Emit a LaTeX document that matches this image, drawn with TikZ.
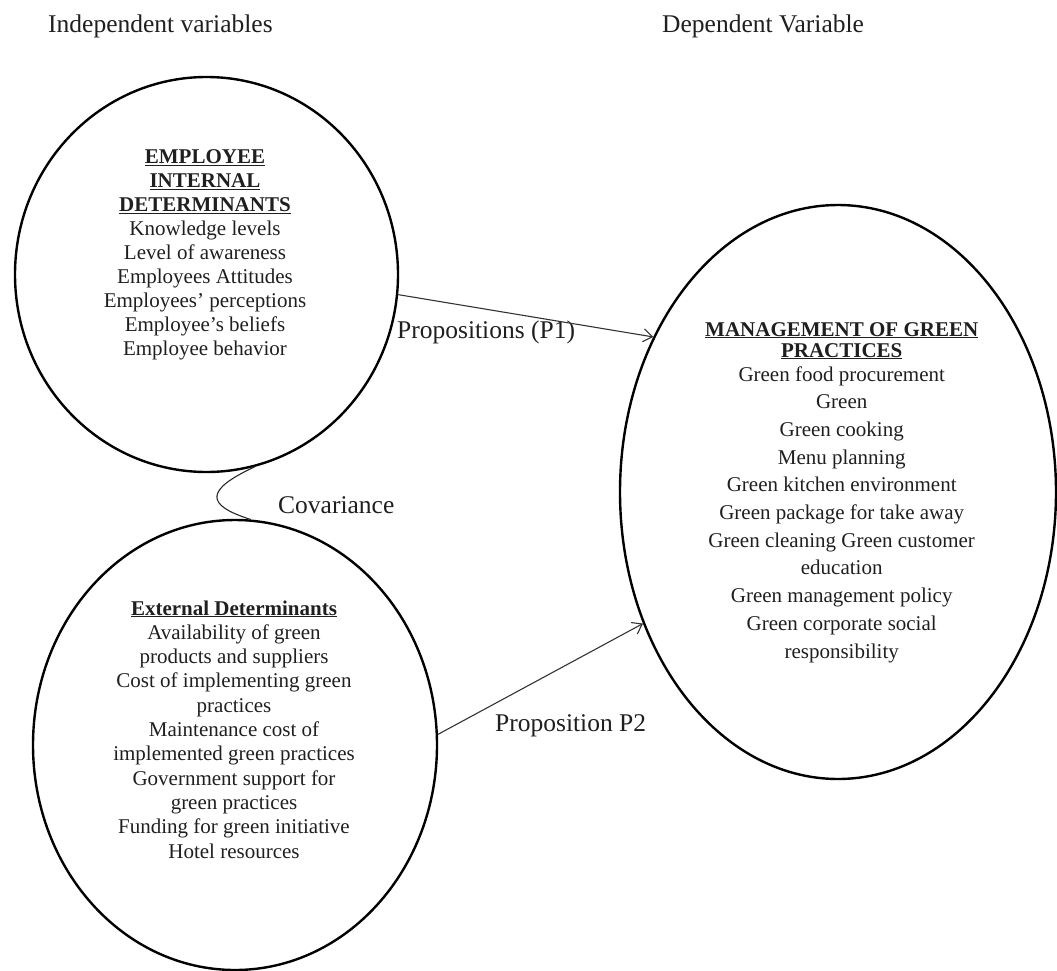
\documentclass[tikz,border=0pt]{standalone}
\usepackage{fontspec}
\setmainfont{Liberation Serif}
\usetikzlibrary{shapes.geometric,arrows.meta}
\begin{document}
\begin{tikzpicture}[x=1pt,y=-1pt,
  circ/.style={draw=black, line width=2.4pt, ellipse, inner sep=0pt},
  body/.style={align=center, inner sep=0pt, text=black!88, font=\fontsize{21}{24}\selectfont},
  lab/.style={inner sep=0pt, text=black!88, font=\fontsize{25.5}{28}\selectfont},
  link/.style={draw=black!80, line width=1.1pt, -{Straight Barb[length=9pt,width=13pt]}},
]
\useasboundingbox (0,0) rectangle (1057,971);

% shapes
\node[circ, minimum width=383pt, minimum height=395pt] (emp) at (206.5,274.5) {};
\node[circ, minimum width=404pt, minimum height=450pt] (ext) at (235,745) {};
\node[circ, minimum width=436pt, minimum height=574pt] (mgp) at (838,492) {};

% texts inside
\node[body] (empT) at (205,255.3) {\underline{\textbf{EMPLOYEE}}\\
  \underline{\textbf{INTERNAL}}\\
  \underline{\textbf{DETERMINANTS}}\\
  Knowledge levels\\
  Level of awareness\\
  Employees Attitudes\\
  Employees’ perceptions\\
  Employee’s beliefs\\
  Employee behavior};

\node[body, font=\fontsize{21}{24.3}\selectfont] (extT) at (234,729.4) {\underline{\textbf{External Determinants}}\\
  Availability of green\\
  products and suppliers\\
  Cost of implementing green\\
  practices\\
  Maintenance cost of\\
  implemented green practices\\
  Government support for\\
  green practices\\
  Funding for green initiative\\
  Hotel resources};

\node[body, font=\fontsize{21}{27.7}\selectfont] (mgpT) at (841.7,492.4) {\underline{\textbf{MANAGEMENT OF GREEN}}\\[-6.7pt]
  \underline{\textbf{PRACTICES}}\\[-3.7pt]
  Green food procurement\\
  Green\\
  Green cooking\\
  Menu planning\\
  Green kitchen environment\\
  Green package for take away\\
  Green cleaning Green customer\\
  education\\
  Green management policy\\
  Green corporate social\\
  responsibility};

% labels
\node[lab, anchor=base west] (indep) at (48,33) {Independent variables};
\node[lab, anchor=base west] (dep) at (662,33) {Dependent Variable};
\node[lab, anchor=base west] (p1) at (397,338) {Propositions (P1)};
\node[lab, anchor=base west] (p2) at (495,731) {Proposition P2};
\node[lab, anchor=base west] (cov) at (278,513) {Covariance};

% connectors
\draw[link] (emp.-6.8) -- (mgp.140.5);
\draw[link] (ext.3.4) -- (mgp.214.4);
\draw[draw=black!85, line width=1.1pt] (emp.-76.9) .. controls (205,490) and (205,505) .. (ext.86.2);
\end{tikzpicture}
\end{document}
